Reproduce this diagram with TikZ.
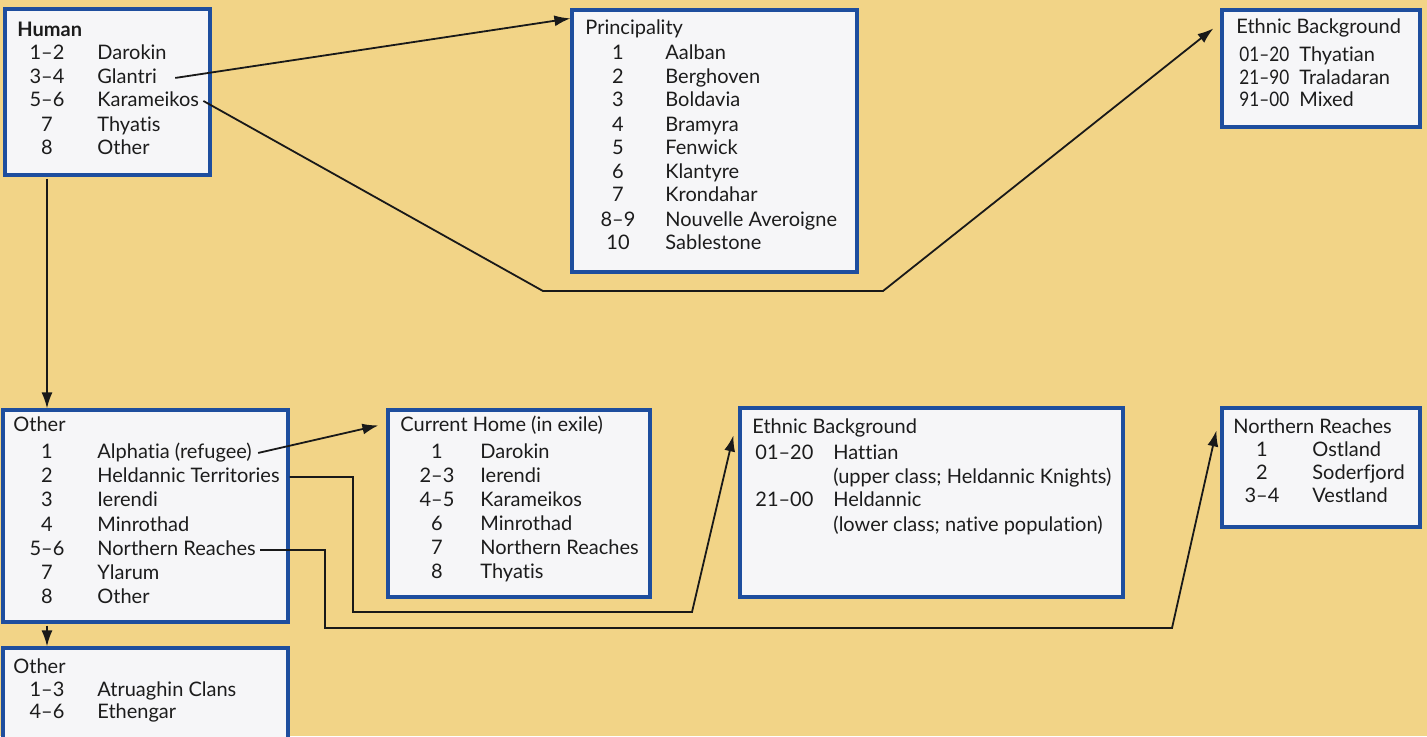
\documentclass[tikz,border=0pt]{standalone}
\usepackage{fontspec}
\setmainfont[Ligatures=NoCommon]{Lato}
\usetikzlibrary{arrows.meta,fit}
\definecolor{parch}{HTML}{F2D487}
\definecolor{boxfill}{HTML}{F6F6F8}
\definecolor{boxline}{HTML}{1E4E9E}
\definecolor{ink}{HTML}{1C1C1C}
\begin{document}
\begin{tikzpicture}[x=0.5pt,y=-0.5pt,
  box/.style={draw=boxline,line width=1.6pt,fill=boxfill,inner sep=0pt,rectangle},
  txt/.style={font=\fontsize{10}{12}\selectfont,text=ink,inner sep=0pt},
  ttl/.style={txt,anchor=base west},
  num/.style={txt,anchor=base},
  numw/.style={txt,anchor=base west},
  nm/.style={txt,anchor=base west},
  link/.style={line width=0.9pt,draw=black!90},
  arr/.style={link,-{Latex[length=8pt,width=5.5pt]}}]
\useasboundingbox (0,0) rectangle (1427,736);
\fill[parch] (0,0) rectangle (1427,736);
\clip (0,0) rectangle (1427,736);

% ---------- boxes ----------
\node[box,fit={(5,9)(210,175)}] (human) {};
\node[box,fit={(572,10)(857,272)}] (prin) {};
\node[box,fit={(1222,10)(1420,127)}] (eth1) {};
\node[box,fit={(3,410)(288,622)}] (other) {};
\node[box,fit={(3,648)(288,760)}] (other2) {};
\node[box,fit={(388,410)(650,597)}] (home) {};
\node[box,fit={(740,408)(1123,597)}] (eth2) {};
\node[box,fit={(1222,408)(1420,527)}] (nr) {};

% ---------- Human ----------
\node[ttl,font=\fontsize{10}{12}\selectfont\bfseries] (human-t) at (17,36) {Human};
\node[num] (hn1) at (47,59) {1–2};   \node[nm] (h1) at (97,59) {Darokin};
\node[num] (hn2) at (47,83) {3–4};   \node[nm] (h2) at (97,83) {Glantri};
\node[num] (hn3) at (47,106) {5–6};  \node[nm] (h3) at (97,106) {Karameikos};
\node[num] (hn4) at (47,131) {7};    \node[nm] (h4) at (97,131) {Thyatis};
\node[num] (hn5) at (47,154) {8};    \node[nm] (h5) at (97,154) {Other};

% ---------- Principality ----------
\node[ttl] (prin-t) at (585,34) {Principality};
\node[num] (pn1) at (618,59) {1};    \node[nm] (p1) at (665,59) {Aalban};
\node[num] (pn2) at (618,83) {2};    \node[nm] (p2) at (665,83) {Berghoven};
\node[num] (pn3) at (618,106) {3};   \node[nm] (p3) at (665,106) {Boldavia};
\node[num] (pn4) at (618,131) {4};   \node[nm] (p4) at (665,131) {Bramyra};
\node[num] (pn5) at (618,154) {5};   \node[nm] (p5) at (665,154) {Fenwick};
\node[num] (pn6) at (618,178) {6};   \node[nm] (p6) at (665,178) {Klantyre};
\node[num] (pn7) at (618,201) {7};   \node[nm] (p7) at (665,201) {Krondahar};
\node[num] (pn8) at (618,226) {8–9}; \node[nm] (p8) at (665,226) {Nouvelle Averoigne};
\node[num] (pn9) at (618,249) {10};  \node[nm] (p9) at (665,249) {Sablestone};

% ---------- Ethnic Background (top) ----------
\node[ttl] (eth1-t) at (1236,33) {Ethnic Background};
\node[numw] (en1) at (1239,61) {\scalebox{0.86}[1]{01–20}};  \node[nm] (e1) at (1299,61) {Thyatian};
\node[numw] (en2) at (1239,84) {\scalebox{0.86}[1]{21–90}};  \node[nm] (e2) at (1299,84) {Traladaran};
\node[numw] (en3) at (1239,106) {\scalebox{0.86}[1]{91–00}}; \node[nm] (e3) at (1299,106) {Mixed};

% ---------- Other ----------
\node[ttl] (other-t) at (13,431) {Other};
\node[num] (on1) at (47,458) {1};    \node[nm] (o1) at (97,458) {Alphatia (refugee)};
\node[num] (on2) at (47,482) {2};    \node[nm] (o2) at (97,482) {Heldannic Territories};
\node[num] (on3) at (47,506) {3};    \node[nm] (o3) at (97,506) {Ierendi};
\node[num] (on4) at (47,531) {4};    \node[nm] (o4) at (97,531) {Minrothad};
\node[num] (on5) at (47,555) {5–6};  \node[nm] (o5) at (97,555) {Northern Reaches};
\node[num] (on6) at (47,579) {7};    \node[nm] (o6) at (97,579) {Ylarum};
\node[num] (on7) at (47,603) {8};    \node[nm] (o7) at (97,603) {Other};

% ---------- Other (lower) ----------
\node[ttl] (other2-t) at (13,673) {Other};
\node[num] (qn1) at (47,696) {1–3};  \node[nm] (q1) at (97,696) {Atruaghin Clans};
\node[num] (qn2) at (47,718) {4–6};  \node[nm] (q2) at (97,718) {Ethengar};

% ---------- Current Home ----------
\node[ttl] (home-t) at (400,431) {Current Home (in exile)};
\node[num] (cn1) at (437,458) {1};   \node[nm] (c1) at (480,458) {Darokin};
\node[num] (cn2) at (437,482) {2–3}; \node[nm] (c2) at (480,482) {Ierendi};
\node[num] (cn3) at (437,506) {4–5}; \node[nm] (c3) at (480,506) {Karameikos};
\node[num] (cn4) at (437,530) {6};   \node[nm] (c4) at (480,530) {Minrothad};
\node[num] (cn5) at (437,554) {7};   \node[nm] (c5) at (480,554) {Northern Reaches};
\node[num] (cn6) at (437,578) {8};   \node[nm] (c6) at (480,578) {Thyatis};

% ---------- Ethnic Background (middle) ----------
\node[ttl] (eth2-t) at (752,433) {Ethnic Background};
\node[numw] (fn1) at (755,459) {01–20}; \node[nm] (f1) at (833,459) {Hattian};
\node[nm] (f1b) at (833,483) {(upper class; Heldannic Knights)};
\node[numw] (fn2) at (755,506) {21–00}; \node[nm] (f2) at (833,506) {Heldannic};
\node[nm] (f2b) at (833,531) {(lower class; native population)};

% ---------- Northern Reaches ----------
\node[ttl] (nr-t) at (1233,433) {Northern Reaches};
\node[num] (rn1) at (1262,456) {1};   \node[nm] (r1) at (1312,456) {Ostland};
\node[num] (rn2) at (1262,479) {2};   \node[nm] (r2) at (1312,479) {Soderfjord};
\node[num] (rn3) at (1262,502) {3–4}; \node[nm] (r3) at (1312,502) {Vestland};

% ---------- connectors ----------
\draw[arr] ([xshift=9pt]h2.mid east) -- ([yshift=-5pt]prin.north west);
\draw[arr] ([xshift=2pt]h3.mid east) -- (543,291) -- (883,291)
  -- ([xshift=-3.5pt,yshift=-10pt]eth1.north west);
\draw[arr] ([yshift=-1pt]human.south -| hn5) -- (other.north -| hn5);
\draw[arr] ([xshift=3pt]o1.mid east) -- ([xshift=-4pt,yshift=-8.5pt]home.north west);
\draw[arr] (other.east |- o2.mid) -| (353,612) -- (692,612)
  -- ([xshift=-2.5pt,yshift=-14.5pt]eth2.north west);
\draw[arr] ([xshift=2pt]o5.mid east) -| (325,628) -- (1172,628)
  -- ([xshift=-2pt,yshift=-12pt]nr.north west);
\draw[arr] ([yshift=-1pt]other.south -| on7) -- (other2.north -| on7);
\end{tikzpicture}
\end{document}
